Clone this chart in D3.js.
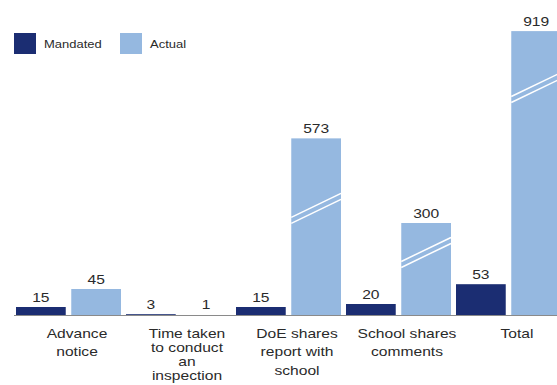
<!doctype html>
<html>
<head>
<meta charset="utf-8">
<script src="https://d3js.org/d3.v7.min.js"></script>
<style>
  body { margin: 0; background: #fff; }
  text { font-family: "Liberation Sans", Arial, sans-serif; fill: #2a2a2a; }
</style>
</head>
<body>
<svg id="chart" width="557" height="385"></svg>
<script>
// data
var categories = ["Advance notice", "Time taken to conduct an inspection", "DoE shares report with school", "School shares comments", "Total"];
var catLines = [["Advance", "notice"], ["Time taken", "to conduct", "an", "inspection"], ["DoE shares", "report with", "school"], ["School shares", "comments"], ["Total"]];
var series = ["Mandated", "Actual"];
var mandated = [15, 3, 15, 20, 53];
var actual = [45, 1, 573, 300, 919];
// axis break drawn on the tall bars (value where the slash sits), null = no break
var actualBreak = [null, null, 347, 205, 737];

var colors = { Mandated: "#1b2d72", Actual: "#95b8e0" };

var svg = d3.select("#chart");
var baseY = 316;
var stretch = 1.3; // text in the original is drawn wide

var x = d3.scaleBand().domain(categories).range([16, 566]);
var xs = d3.scaleBand().domain(series).range([0, 105]).paddingInner(0.1);

// short bars use the full scale, broken bars a compressed one
var y = d3.scaleLinear().domain([0, 60]).range([baseY, baseY - 36]);
var yBroken = d3.scaleLinear().domain([0, 1000]).range([baseY, baseY - 310]);

var flat = [];
categories.forEach(function (c, i) {
  flat.push({ cat: c, s: "Mandated", v: mandated[i], brk: null });
  flat.push({ cat: c, s: "Actual", v: actual[i], brk: actualBreak[i] });
});

function yOf(d) { return d.brk != null ? yBroken(d.v) : y(d.v); }

function wideText(parent, cx, cy, size) {
  return parent.append("g")
    .attr("transform", "translate(" + cx + "," + cy + ") scale(" + stretch + ",1)")
    .append("text").attr("x", 0).attr("y", 0).attr("font-size", size);
}

var g = svg.append("g");

g.selectAll("rect.bar").data(flat).enter().append("rect")
  .attr("class", "bar")
  .attr("x", function (d) { return x(d.cat) + xs(d.s); })
  .attr("width", xs.bandwidth())
  .attr("y", function (d) { return yOf(d); })
  .attr("height", function (d) { return baseY - yOf(d); })
  .attr("fill", function (d) { return colors[d.s]; });

// break slashes
flat.filter(function (d) { return d.brk != null; }).forEach(function (d) {
  var bx = x(d.cat) + xs(d.s), w = xs.bandwidth(), by = yBroken(d.brk);
  [3, -3].forEach(function (off) {
    g.append("line")
      .attr("x1", bx).attr("y1", by + 12 + off)
      .attr("x2", bx + w).attr("y2", by - 12 + off)
      .attr("stroke", "#fff").attr("stroke-width", 1.5);
  });
});

// baseline
g.append("line")
  .attr("x1", 14).attr("x2", 557)
  .attr("y1", baseY - 0.5).attr("y2", baseY - 0.5)
  .attr("stroke", "#8a8a8a").attr("stroke-width", 1);

// value labels
flat.forEach(function (d) {
  wideText(g, x(d.cat) + xs(d.s) + xs.bandwidth() / 2, Math.min(yOf(d), baseY - 2) - 5, 12)
    .attr("text-anchor", "middle")
    .text(d.v);
});

// category labels
categories.forEach(function (c, i) {
  var n = catLines[i].length;
  var lh = n > 1 ? Math.min(18.5, 42 / (n - 1)) : 0;
  var t = wideText(g, x(c) + 61, baseY + 22, 12).attr("text-anchor", "middle");
  catLines[i].forEach(function (ln, j) {
    t.append("tspan").attr("x", 0).attr("dy", j === 0 ? 0 : lh).text(ln);
  });
});

// legend
var legend = svg.append("g").attr("transform", "translate(14,33)");
var lx = [0, 106];
series.forEach(function (s, i) {
  legend.append("rect").attr("x", lx[i]).attr("y", 0).attr("width", 22).attr("height", 21)
    .attr("fill", colors[s]);
  wideText(legend, lx[i] + 30, 15, 10).text(s);
});
</script>
</body>
</html>
